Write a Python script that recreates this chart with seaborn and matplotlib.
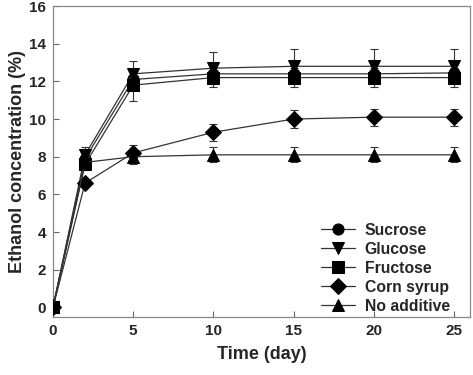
import numpy as np
import pandas as pd
import matplotlib
matplotlib.use("Agg")
import matplotlib.pyplot as plt
import seaborn as sns

# ==========================================
# 데이터
# ==========================================
DAYS = [0, 2, 5, 10, 15, 20, 25]
SERIES = ["Sucrose", "Glucose", "Fructose", "Corn syrup", "No additive"]
MARKERS = ["o", "v", "s", "D", "^"]

SUCROSE = [0.0, 7.9, 12.1, 12.4, 12.4, 12.4, 12.45]
GLUCOSE = [0.0, 8.1, 12.4, 12.7, 12.8, 12.8, 12.8]
FRUCTOSE = [0.0, 7.6, 11.8, 12.2, 12.2, 12.2, 12.2]
CORN_SYRUP = [0.0, 6.6, 8.2, 9.3, 10.0, 10.1, 10.1]
NO_ADDITIVE = [0.0, 7.7, 8.0, 8.1, 8.1, 8.1, 8.1]

SUCROSE_SD = [0.0, 0.3, 0.5, 0.4, 0.5, 0.5, 0.5]
GLUCOSE_SD = [0.0, 0.4, 0.7, 0.85, 0.9, 0.9, 0.9]
FRUCTOSE_SD = [0.0, 0.3, 0.85, 0.5, 0.5, 0.5, 0.5]
CORN_SYRUP_SD = [0.0, 0.2, 0.4, 0.45, 0.5, 0.45, 0.45]
NO_ADDITIVE_SD = [0.0, 0.3, 0.4, 0.4, 0.4, 0.4, 0.4]

values = [SUCROSE, GLUCOSE, FRUCTOSE, CORN_SYRUP, NO_ADDITIVE]
sds = [SUCROSE_SD, GLUCOSE_SD, FRUCTOSE_SD, CORN_SYRUP_SD, NO_ADDITIVE_SD]

rows = []
for name, v, s in zip(SERIES, values, sds):
    for d, y, e in zip(DAYS, v, s):
        rows.append({"day": d, "conc": y, "sd": e, "sugar": name})
df = pd.DataFrame(rows)

# ==========================================
# 시각화
# ==========================================
sns.set_style("ticks")
plt.rcParams["font.family"] = ["Liberation Sans", "DejaVu Sans"]
plt.rcParams["font.weight"] = "bold"

fig = plt.figure(figsize=(4.73, 3.75), dpi=100)
ax = fig.add_axes([0.112, 0.155, 0.882, 0.829])

# 에러바
for name in SERIES:
    sub = df[df["sugar"] == name]
    ax.errorbar(sub["day"], sub["conc"], yerr=sub["sd"], fmt="none",
                ecolor="#333333", elinewidth=0.8, capsize=3, capthick=0.8, zorder=2)

sns.lineplot(data=df, x="day", y="conc", hue="sugar", style="sugar",
             hue_order=SERIES, style_order=SERIES,
             palette=["#333333"] * len(SERIES), markers=MARKERS, dashes=False,
             markersize=8, markerfacecolor="black", markeredgecolor="black",
             linewidth=0.9, ax=ax, zorder=3)

ax.set_xlim(0, 26)
ax.set_ylim(-0.5, 16)
ax.set_xticks([0, 5, 10, 15, 20, 25])
ax.set_yticks(range(0, 17, 2))
ax.tick_params(direction="in", length=4, width=0.8, color="#666666",
               labelsize=11, pad=5)
for lbl in ax.get_xticklabels() + ax.get_yticklabels():
    lbl.set_fontweight("bold")
for sp in ax.spines.values():
    sp.set_color("#888888")
    sp.set_linewidth(0.9)

ax.set_xlabel("Time (day)", fontsize=13, fontweight="bold", labelpad=6)
ax.set_ylabel("Ethanol concentration (%)", fontsize=13, fontweight="bold", labelpad=2)

leg = ax.legend(loc="lower right", bbox_to_anchor=(0.985, -0.035), frameon=False,
                fontsize=11.3, handlelength=2.2, labelspacing=0.25,
                handletextpad=0.6, title=None)
for txt in leg.get_texts():
    txt.set_fontweight("bold")

fig.savefig("out.png", dpi=100)
